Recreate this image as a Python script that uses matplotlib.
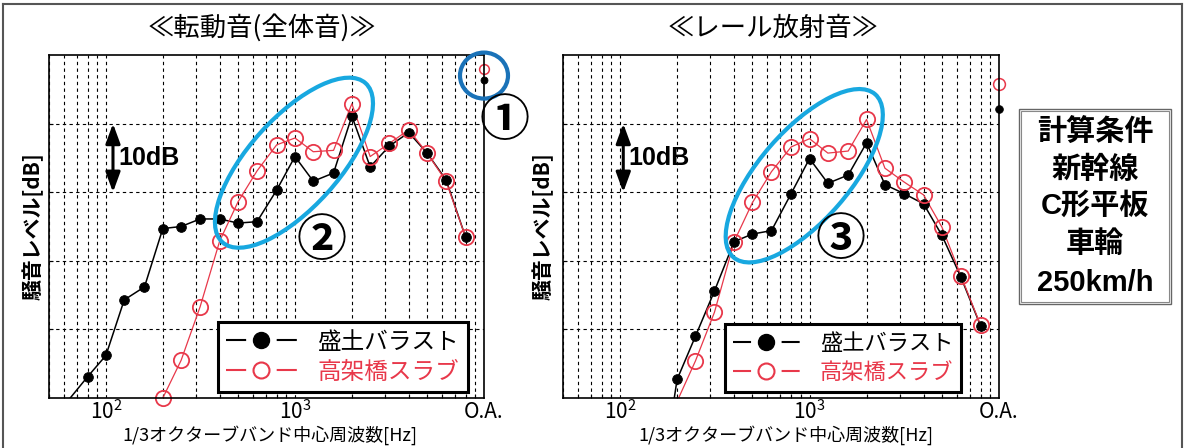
import numpy as np
import matplotlib
matplotlib.use("Agg")
import matplotlib.pyplot as plt
from matplotlib.lines import Line2D
from matplotlib.patches import Ellipse, Rectangle
from matplotlib import transforms
from matplotlib.ticker import LogLocator, NullFormatter, FixedLocator
from matplotlib.legend_handler import HandlerTuple

plt.rcParams['font.family'] = ['Noto Sans CJK JP', 'DejaVu Sans']

JP = ['Noto Sans CJK JP', 'DejaVu Sans']
NARROW = ['Liberation Sans Narrow', 'Noto Sans CJK JP', 'DejaVu Sans']
SANS = ['Liberation Sans', 'Noto Sans CJK JP', 'DejaVu Sans']

# ---- data: 1/3 octave band levels (relative dB) ----
bands = [63, 80, 100, 125, 160, 200, 250, 315, 400, 500, 630, 800,
         1000, 1250, 1600, 2000, 2500, 3150, 4000, 5000, 6300, 8000]
nan = np.nan

# rolling noise (total)
rolling_ballast = [-0.4, 3.1, 6.2, 14.3, 16.2, 24.7, 25.0, 26.1, 26.1, 25.5, 25.7, 30.3,
                   35.2, 31.6, 32.8, 41.1, 33.7, 36.7, 38.7, 35.7, 31.8, 23.4]
rolling_slab = [nan, nan, nan, nan, nan, 0.0, 5.5, 13.3, 22.9, 28.6, 33.1, 36.9,
                37.9, 35.9, 36.1, 42.9, 35.2, 37.1, 39.1, 35.7, 31.6, 23.4]
rolling_oa = {'ballast': 46.3, 'slab': 48.0}

# rail radiated noise
rail_ballast = [nan, nan, nan, nan, -15.0, 2.7, 9.0, 15.6, 22.8, 23.9, 24.4, 29.8,
                34.9, 31.3, 32.5, 37.2, 31.1, 29.8, 28.3, 23.7, 17.6, 10.5]
rail_slab = [nan, nan, nan, nan, nan, -0.5, 5.4, 12.5, 22.8, 28.5, 33.0, 36.6,
             37.8, 35.7, 36.0, 40.6, 33.5, 31.5, 29.6, 24.9, 17.8, 10.6]
rail_oa = {'ballast': 42.1, 'slab': 45.7}

xtick_pos = [100, 1000, 10000]
xtick_labels = [r'$\mathregular{10^{2}}$', r'$\mathregular{10^{3}}$', 'O.A.']
OA_X = xtick_pos[-1]

series_names = ['盛土バラスト', '高架橋スラブ']
titles = ['≪転動音(全体音)≫', '≪レール放射音≫']
xlabel = '1/3オクターブバンド中心周波数[Hz]'
ylabel = '騒音レベル[dB]'
conditions = ['計算条件', '新幹線', 'C形平板', '車輪', '250km/h']

RED = '#e8384a'
CYAN = '#18a8e0'
NAVY = '#1a72b8'

W, H, DPI = 1185, 448, 100
fig = plt.figure(figsize=(W / DPI, H / DPI), dpi=DPI)
fig.patch.set_facecolor('white')


def fx(px):
    return px / W


def fy(py):
    return 1 - py / H


ax1 = fig.add_axes([fx(49), fy(398), 435 / W, 343 / H])
ax2 = fig.add_axes([fx(563), fy(398), 436 / W, 343 / H])


def setup(ax):
    ax.set_xscale('log')
    ax.set_xlim(50, 10000)
    ax.set_ylim(0, 50)
    ax.xaxis.set_major_locator(FixedLocator(xtick_pos))
    ax.set_xticklabels(xtick_labels, family=NARROW, fontsize=15)
    ax.xaxis.set_minor_locator(LogLocator(base=10, subs=np.arange(2, 10)))
    ax.xaxis.set_minor_formatter(NullFormatter())
    ax.set_yticks([10, 20, 30, 40])
    ax.set_yticklabels([])
    ax.grid(True, which='both', axis='x', color='k', lw=0.8, ls=(0, (3, 3)))
    ax.grid(True, which='major', axis='y', color='k', lw=0.8, ls=(0, (3, 3)))
    ax.tick_params(which='both', direction='in', length=3, width=0.8, pad=2)
    ax.tick_params(axis='x', which='major', length=0)
    for s in ax.spines.values():
        s.set_linewidth(1.2)
        s.set_zorder(5)


def draw_series(ax, values, oa, color, filled, lw, ms, ms_oa, z):
    v = np.array(values, float)
    ax.plot(bands, v, color=color, lw=lw, zorder=z)
    shown = np.where(v >= 0, v, np.nan)
    face = color if filled else 'none'
    mew = 0.6 if filled else 1.3
    ax.plot(bands, shown, ls='none', marker='o', ms=ms, mfc=face, mec=color,
            mew=mew, clip_on=False, zorder=z + 1)
    ax.plot([OA_X], [oa], ls='none', marker='o', ms=ms_oa, mfc=face, mec=color,
            mew=1.1 if not filled else 0.6, clip_on=False, zorder=z + 1)


def ring(ax, x, y, w_px, h_px, angle, color, lw):
    tr = fig.dpi_scale_trans + transforms.ScaledTranslation(x, y, ax.transData)
    e = Ellipse((0, 0), w_px / DPI, h_px / DPI, angle=angle, transform=tr,
                fill=False, ec=color, lw=lw, clip_on=False, zorder=8)
    ax.add_artist(e)


def ten_db(ax, x_arrow, x_text):
    ax.annotate('', xy=(x_arrow, 40), xytext=(x_arrow, 30),
                arrowprops=dict(arrowstyle='<|-|>,head_length=0.6,head_width=0.22',
                                mutation_scale=20, lw=2.2, color='k',
                                shrinkA=0, shrinkB=0), zorder=7)
    ax.text(x_text, 35, '10dB', family=SANS, fontsize=18, fontweight='bold',
            ha='left', va='center', zorder=7)


def add_legend(ax, anchor, fs):
    hl = 3.0
    lw = 1.5
    handle_pt = hl * fs
    gap_pt = 22
    dash_pt = (handle_pt - gap_pt) / 2
    dashes = (dash_pt / lw, gap_pt / lw)
    h_black = (Line2D([], [], color='k', lw=lw, dashes=dashes),
               Line2D([], [], color='k', marker='o', ms=11.5, ls='none'))
    h_red = (Line2D([], [], color=RED, lw=lw, dashes=dashes),
             Line2D([], [], color=RED, marker='o', ms=11.5, mfc='white',
                    mew=1.5, ls='none'))
    leg = ax.legend([h_black, h_red], series_names, loc='lower right',
                    bbox_to_anchor=anchor,
                    handler_map={tuple: HandlerTuple(ndivide=1, pad=0)},
                    handlelength=hl, fontsize=fs, frameon=True, fancybox=False,
                    edgecolor='k', framealpha=1, borderpad=0.35,
                    labelspacing=0.3, handletextpad=0.9, borderaxespad=0)
    leg.get_frame().set_linewidth(2.2)
    leg.set_zorder(9)
    for t, c in zip(leg.get_texts(), ['k', RED]):
        t.set_color(c)


for ax in (ax1, ax2):
    setup(ax)

# left panel: rolling noise
draw_series(ax1, rolling_slab, rolling_oa['slab'], RED, False, 0.9, 11, 7, 3)
draw_series(ax1, rolling_ballast, rolling_oa['ballast'], 'k', True, 1.1, 7, 5, 2)
# right panel: rail radiated noise
draw_series(ax2, rail_slab, rail_oa['slab'], RED, False, 0.9, 11, 8.5, 3)
draw_series(ax2, rail_ballast, rail_oa['ballast'], 'k', True, 1.1, 7, 5.5, 2)

ten_db(ax1, 109, 116)
ten_db(ax2, 104, 110)

add_legend(ax1, (0.963, 0.0175), 17)
add_legend(ax2, (0.913, 0.0175), 16)

# highlight rings and circled numbers
ring(ax1, 988, 34.3, 214, 90, 48, CYAN, 3)
ring(ax2, 938, 32.4, 216, 90, 49, CYAN, 3)
ring(ax1, OA_X, 47.0, 48, 46, 0, NAVY, 3)
ax1.text(1383, 22.8, '②', fontsize=36, fontweight='bold', ha='center',
         va='center', zorder=8)
ax2.text(1452, 23.0, '③', fontsize=36, fontweight='bold', ha='center',
         va='center', zorder=8)
fig.text(fx(505), fy(121), '①', fontsize=36, fontweight='bold',
         ha='center', va='center')

# titles and axis labels
fig.text(fx(262), fy(28), titles[0], fontsize=19, ha='center', va='center')
fig.text(fx(773), fy(28), titles[1], fontsize=19, ha='center', va='center')
for cx in (270, 786):
    fig.text(fx(cx), fy(435), xlabel, family=NARROW, fontsize=13,
             ha='center', va='center')
for cx in (33, 543):
    fig.text(fx(cx), fy(226), ylabel, fontsize=15, fontweight='bold',
             rotation=90, ha='center', va='center')

# calculation condition box
fig.add_artist(Rectangle((fx(1019), fy(304)), 152 / W, 195 / H,
                         transform=fig.transFigure, fill=False, ec='#666', lw=1.0))
fig.add_artist(Rectangle((fx(1021), fy(302)), 148 / W, 191 / H,
                         transform=fig.transFigure, fill=False, ec='#888', lw=0.8))
for text, cy in zip(conditions, [132, 170, 206, 244, 283]):
    fig.text(fx(1095), fy(cy), text, family=SANS, fontsize=21, fontweight='bold',
             ha='center', va='center')

# outer frame
for xs, ys in [((3, 3), (448, 4)), ((3, 1182), (4, 4)), ((1182, 1182), (4, 448))]:
    fig.add_artist(Line2D([fx(x) for x in xs], [fy(y) for y in ys],
                          transform=fig.transFigure, color='#555', lw=1.5))

fig.savefig('out.png', dpi=DPI)
